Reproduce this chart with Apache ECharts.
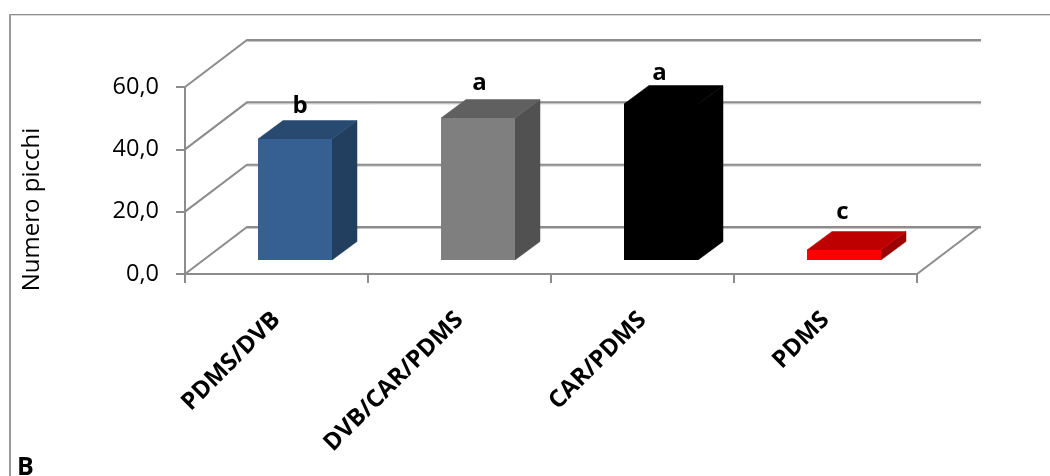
<!DOCTYPE html>
<html>
<head>
<meta charset="utf-8">
<style>html,body{margin:0;padding:0;background:#fff}#c{width:1050px;height:476px}</style>
<script src="https://cdn.jsdelivr.net/npm/echarts@6/dist/echarts.min.js"></script>
</head>
<body>
<div id="c"></div>
<script>
const categories = ['PDMS/DVB', 'DVB/CAR/PDMS', 'CAR/PDMS', 'PDMS'];
const values = [38.8, 45.6, 50.0, 3.2];
const letters = ['b', 'a', 'a', 'c'];
const yTicks = [0, 20, 40, 60];

const frontColors = ['#376092', '#7f7f7f', '#000000', '#ff0000'];
const topColors = ['#284a70', '#606060', '#000000', '#bf0000'];
const sideColors = ['#233f5f', '#515151', '#000000', '#9c0000'];
const letterShift = [5, 1.5, -1.5, -1.5];
const letterRise = [33, 34.5, 31, 38];

const WALL_DX = 62, WALL_DY = -47;
const BAR_DX = 18.5, BAR_DY = -14;
const DEPTH_DX = 25, DEPTH_DY = -18.5;
const BAR_W = 74;
const FONT = '"Open Sans", sans-serif';
const GRID = '#8c8c8c', GRID_LIGHT = '#c4c4c4';

function renderWall(params, api) {
  const cs = params.coordSys;
  const y = api.coord([0, api.value(1)])[1];
  const x0 = cs.x, x1 = cs.x + WALL_DX, x2 = cs.x + cs.width + WALL_DX;
  const by = y + WALL_DY;
  const kids = [
    { type: 'line', shape: { x1: x1, y1: by + 1.5, x2: x2 + 2, y2: by + 1.5 }, style: { stroke: GRID_LIGHT, lineWidth: 1 } },
    { type: 'polyline', shape: { points: [[x0, y], [x1, by], [x2 + 2, by]] }, style: { stroke: GRID, lineWidth: 2, fill: null } }
  ];
  if (api.value(1) === 0) {
    kids.push({ type: 'line', shape: { x1: cs.x + cs.width, y1: y, x2: x2, y2: by }, style: { stroke: GRID, lineWidth: 2 } });
  }
  return { type: 'group', children: kids };
}

function renderBar(params, api) {
  const i = params.dataIndex;
  const base = api.coord([i, 0]);
  const top = api.coord([i, api.value(1)]);
  const cx = base[0] + BAR_DX;
  const xl = Math.round(cx - BAR_W / 2), xr = xl + BAR_W;
  const yb = Math.round(base[1] + BAR_DY);
  const yt = Math.round(top[1] + BAR_DY);
  const dx = DEPTH_DX, dy = DEPTH_DY;
  return {
    type: 'group',
    children: [
      { type: 'polygon', shape: { points: [[xr, yt], [xr + dx, yt + dy], [xr + dx, yb + dy], [xr, yb]] }, style: { fill: sideColors[i], stroke: sideColors[i], lineWidth: 0.5 } },
      { type: 'polygon', shape: { points: [[xl, yt], [xl + dx, yt + dy], [xr + dx, yt + dy], [xr, yt]] }, style: { fill: topColors[i], stroke: topColors[i], lineWidth: 0.5 } },
      { type: 'rect', shape: { x: xl, y: yt, width: BAR_W, height: yb - yt }, style: { fill: frontColors[i] } },
      { type: 'text', x: cx + letterShift[i], y: yt - letterRise[i], style: { text: letters[i], fill: '#000', font: 'bold 24px ' + FONT, textAlign: 'center', textVerticalAlign: 'middle' } }
    ]
  };
}

const chart = echarts.init(document.getElementById('c'), null, { renderer: 'canvas' });
chart.setOption({
  animation: false,
  backgroundColor: '#ffffff',
  grid: { left: 185, right: 133, top: 87, height: 187, containLabel: false },
  xAxis: {
    type: 'category',
    data: categories,
    axisLine: { lineStyle: { color: GRID, width: 2 } },
    axisTick: { show: true, length: 9, lineStyle: { color: GRID, width: 2 } },
    axisLabel: { rotate: 45, interval: 0, margin: 42, color: '#000', fontFamily: FONT, fontWeight: 'bold', fontSize: 24 },
    splitLine: { show: false }
  },
  yAxis: {
    type: 'value', min: 0, max: 60, interval: 20,
    name: 'Numero picchi',
    nameLocation: 'middle',
    nameGap: 141,
    nameTextStyle: { color: '#000', fontFamily: FONT, fontSize: 24, padding: [0, 58, 0, 0] },
    axisLine: { show: true, lineStyle: { color: GRID, width: 2 } },
    axisTick: { show: true, length: 9, lineStyle: { color: GRID, width: 2 } },
    axisLabel: { margin: 26, color: '#000', fontFamily: FONT, fontSize: 23.5, formatter: v => v.toFixed(1).replace('.', ',') },
    splitLine: { show: false }
  },
  graphic: [
    { type: 'line', silent: true, shape: { x1: 10, y1: 14.5, x2: 1050, y2: 14.5 }, style: { stroke: '#8a8a8a', lineWidth: 1 } },
    { type: 'line', silent: true, shape: { x1: 10, y1: 15.5, x2: 1050, y2: 15.5 }, style: { stroke: '#dcdcdc', lineWidth: 1 } },
    { type: 'line', silent: true, shape: { x1: 10, y1: 14, x2: 10, y2: 476 }, style: { stroke: '#999999', lineWidth: 2 } },
    { type: 'text', silent: true, x: 17, y: 455, style: { text: 'B', fill: '#000', font: 'bold 25px ' + FONT } }
  ],
  series: [
    { type: 'custom', name: 'wall', coordinateSystem: 'cartesian2d', clip: false, silent: true, z: 1,
      data: yTicks.map(v => [0, v]), encode: { x: 0, y: 1 }, renderItem: renderWall },
    { type: 'custom', name: 'Numero picchi', coordinateSystem: 'cartesian2d', clip: false, z: 3,
      data: values.map((v, i) => [i, v]), encode: { x: 0, y: 1 }, renderItem: renderBar }
  ]
});
</script>
</body>
</html>
